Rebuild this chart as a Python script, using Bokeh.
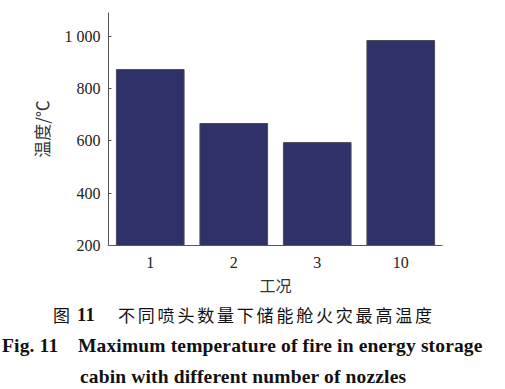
from bokeh.plotting import figure
from bokeh.models import FactorRange, Range1d, FixedTicker, Div
from bokeh.layouts import column
from bokeh.embed import file_html
from bokeh.resources import INLINE

categories = ["1", "2", "3", "10"]
temperatures = [872, 666, 593, 983]
y_ticks = [200, 400, 600, 800, 1000]
y_tick_labels = {1000: "1 000"}
caption_cn_num = "图"
caption_fig_no = "11"
caption_cn = "不同喷头数量下储能舱火灾最高温度"
caption_en_no = "Fig. 11"
caption_en_1 = "Maximum temperature of fire in energy storage"
caption_en_2 = "cabin with different number of nozzles"

p = figure(width=500, height=300, output_backend="svg", toolbar_location=None,
           x_range=FactorRange(*categories, range_padding=0),
           y_range=Range1d(200, 1090),
           min_border_left=108, min_border_right=58, min_border_top=12, min_border_bottom=55)
p.outline_line_color = None
p.grid.grid_line_color = None
p.background_fill_color = "white"

p.vbar(x=categories, top=temperatures, bottom=200, width=0.81,
       fill_color="#2e3268", line_color="#4a4a5a", line_width=1)

serif = "Liberation Serif"
for ax in (p.xaxis[0], p.yaxis[0]):
    ax.axis_line_color = "#555555"
    ax.major_label_text_font = serif
    ax.major_label_text_font_size = "16px"
    ax.major_label_text_color = "#222222"
    ax.minor_tick_line_color = None
    ax.axis_label_text_font = "Noto Sans CJK SC"
    ax.axis_label_text_font_style = "normal"
    ax.axis_label_text_font_size = "16px"
    ax.axis_label_text_color = "#333333"

p.xaxis.major_tick_line_color = None
p.xaxis.major_label_standoff = 5
p.xaxis.axis_label = "工况"
p.xaxis.axis_label_standoff = 2

p.yaxis.ticker = FixedTicker(ticks=y_ticks)
p.yaxis.major_label_overrides = y_tick_labels
p.yaxis.major_tick_in = 3
p.yaxis.major_tick_out = 0
p.yaxis.major_tick_line_color = "#555555"
p.yaxis.major_label_standoff = 8
p.yaxis.axis_label = "温度/℃"
p.yaxis.axis_label_text_font_size = "17px"
p.yaxis.axis_label_standoff = 8

cn = "font-family:'Noto Sans CJK SC';font-size:17px;line-height:20px;white-space:nowrap;position:absolute;"
en = ("font-family:'Liberation Serif';font-weight:bold;font-size:19.5px;letter-spacing:0.15px;"
      "line-height:20px;white-space:nowrap;position:absolute;")
html = (
    '<div style="position:relative;width:505px;height:89px;color:#111111;">'
    f'<div style="{cn}left:53px;top:5px;">{caption_cn_num}</div>'
    f'<div style="{en}font-size:18.5px;left:77px;top:5px;">{caption_fig_no}</div>'
    f'<div style="{cn}left:118px;top:5px;letter-spacing:2.8px;">{caption_cn}</div>'
    f'<div style="{en}left:2px;top:36px;">{caption_en_no}</div>'
    f'<div style="{en}left:78px;top:36px;">{caption_en_1}</div>'
    f'<div style="{en}left:80px;top:67px;">{caption_en_2}</div>'
    '</div>'
)
caption = Div(text=html, width=505, height=89, margin=0)

layout = column(p, caption, spacing=0)
open("out.html", "w").write(file_html(layout, INLINE))
